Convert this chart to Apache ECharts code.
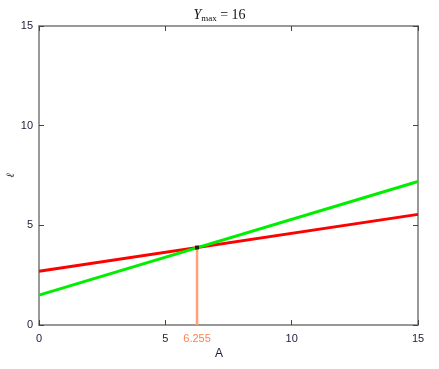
<!DOCTYPE html>
<html><head><meta charset="utf-8">
<script src="https://cdn.jsdelivr.net/npm/echarts@6/dist/echarts.min.js"></script>
<style>html,body{margin:0;padding:0;background:#fff}#c{width:439px;height:369px}</style>
</head><body><div id="c"></div>
<script>
const xTicks = [0, 5, 10, 15];
const yTicks = [0, 5, 10, 15];
const crossX = 6.255;
const crossY = 3.888;
const redLine = [[0, 2.70], [15, 5.55]];
const greenLine = [[0, 1.50], [15, 7.20]];
const dropLine = [[crossX, 0], [crossX, crossY]];
const crossPoint = [[crossX, crossY]];

const axisCol = '#777';
const labCol = '#1c1c3a';
const font = 'Liberation Sans';
const chart = echarts.init(document.getElementById('c'));
const baseX = {type:'value', min:0, max:15, interval:5,
  axisLine:{show:true, onZero:false, lineStyle:{color:axisCol, width:1.5}},
  axisTick:{show:true, inside:true, length:5, lineStyle:{color:'#444'}},
  splitLine:{show:false}};
const baseY = {type:'value', min:0, max:15, interval:5,
  axisLine:{show:true, onZero:false, lineStyle:{color:axisCol, width:1.5}},
  axisTick:{show:true, inside:true, length:5, lineStyle:{color:'#444'}},
  splitLine:{show:false}};
chart.setOption({
  animation:false,
  title:{text:'{i|Y}{s|max}{n| = 16}', left:'center', top:3,
    textStyle:{fontWeight:'normal', rich:{
      i:{fontFamily:'Liberation Serif', fontStyle:'italic', fontWeight:'normal', fontSize:14, color:'#111'},
      s:{fontFamily:'Liberation Serif', fontWeight:'normal', fontSize:9, color:'#111', verticalAlign:'bottom', padding:[6,0,0,0]},
      n:{fontFamily:'Liberation Serif', fontWeight:'normal', fontSize:14, color:'#111'}}}},
  grid:{left:39, right:21, top:26, bottom:44, containLabel:false, outerBoundsMode:'none'},
  xAxis:[
    Object.assign({}, baseX, {position:'bottom',
      axisLabel:{customValues:xTicks, color:labCol, fontFamily:font, fontSize:11, margin:8},
      axisTick:{show:true, inside:true, length:5, customValues:xTicks, lineStyle:{color:'#444'}},
      name:'A', nameLocation:'middle', nameGap:23, nameMoveOverlap:false,
      nameTextStyle:{color:labCol, fontFamily:font, fontSize:12, padding:[0,19,0,0]}}),
    Object.assign({}, baseX, {position:'bottom', axisLine:{show:false}, axisTick:{show:false},
      axisLabel:{customValues:[crossX], color:'#ff7f50', fontFamily:font, fontSize:11, margin:8,
        formatter:v=>v.toFixed(3)}}),
    Object.assign({}, baseX, {position:'top', axisLabel:{show:false}})
  ],
  yAxis:[
    Object.assign({}, baseY, {position:'left',
      axisLabel:{customValues:yTicks, color:labCol, fontFamily:font, fontSize:11, margin:6},
      name:'ℓ', nameLocation:'middle', nameGap:22, nameRotate:90, nameMoveOverlap:false,
      nameTextStyle:{color:labCol, fontFamily:'DejaVu Serif', fontStyle:'italic', fontSize:11}}),
    Object.assign({}, baseY, {position:'right', axisLabel:{show:false}})
  ],
  series:[
    {type:'line', data:dropLine, symbol:'none', lineStyle:{color:'#ffa07a', width:2.5}, z:1},
    {type:'line', data:redLine, symbol:'none', lineStyle:{color:'#ff0000', width:3}, z:2},
    {type:'line', data:greenLine, symbol:'none', lineStyle:{color:'#00ee00', width:3}, z:3},
    {type:'scatter', data:crossPoint, symbol:'rect', symbolSize:4, itemStyle:{color:'#000'}, z:4}
  ]
});
</script></body></html>
